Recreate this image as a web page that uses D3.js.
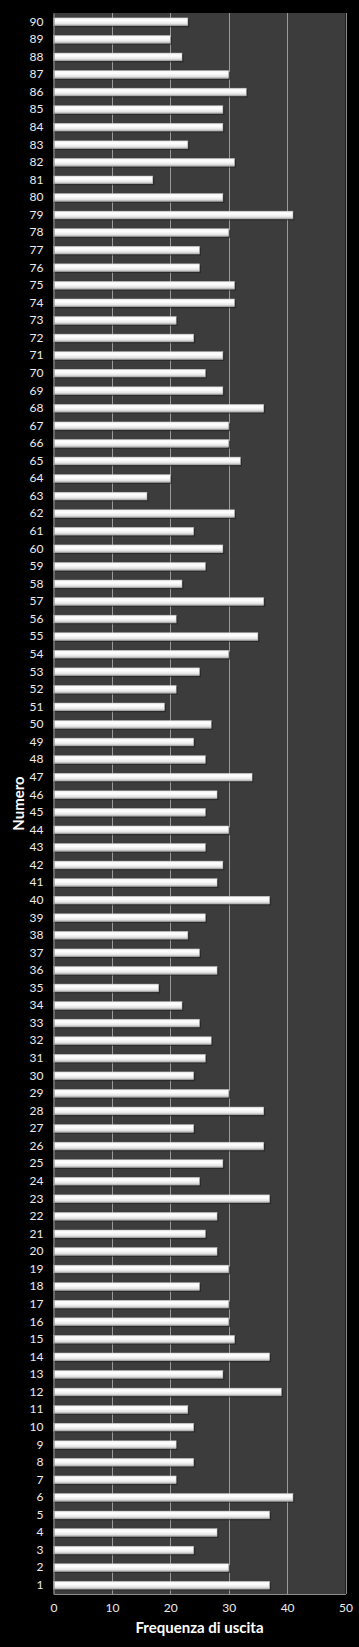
<!DOCTYPE html>
<html>
<head>
<meta charset="utf-8">
<script src="https://cdn.jsdelivr.net/npm/d3@7"></script>
<style>
html,body{margin:0;padding:0;background:#000;}
svg{display:block;}
</style>
</head>
<body>
<div id="chart"></div>
<script>
const categories = d3.range(1, 91).map(String);
const values = [
  37,30,24,28,37,41,21,24,21,24,   // 1-10
  23,39,29,37,31,30,30,25,30,28,   // 11-20
  26,28,37,25,29,36,24,36,30,24,   // 21-30
  26,27,25,22,18,28,25,23,26,37,   // 31-40
  28,29,26,30,26,28,34,26,24,27,   // 41-50
  19,21,25,30,35,21,36,22,26,29,   // 51-60
  24,31,16,20,32,30,30,36,29,26,   // 61-70
  29,24,21,31,31,25,25,30,41,29,   // 71-80
  17,31,23,29,29,33,30,22,20,23    // 81-90
];
const xTicks = [0,10,20,30,40,50];
const xTitle = "Frequenza di uscita";
const yTitle = "Numero";

const W = 359, H = 1647;
const m = {left:53.5, right:13.5, top:13, bottom:53};
const svg = d3.select("#chart").append("svg").attr("width",W).attr("height",H);
svg.append("rect").attr("width",W).attr("height",H).attr("fill","#000");

const x = d3.scaleLinear().domain([0,50]).range([m.left, W-m.right]);
const y = d3.scaleBand().domain(categories.slice().reverse()).range([m.top, H-m.bottom]).paddingInner(0.56).paddingOuter(0.28);

const defs = svg.append("defs");
const grad = defs.append("linearGradient").attr("id","barg").attr("x1",0).attr("y1",0).attr("x2",0).attr("y2",1);
grad.append("stop").attr("offset","0%").attr("stop-color","#f4f4f4");
grad.append("stop").attr("offset","35%").attr("stop-color","#ffffff");
grad.append("stop").attr("offset","75%").attr("stop-color","#e6e6e6");
grad.append("stop").attr("offset","100%").attr("stop-color","#a8a8a8");

// plot area
svg.append("rect").attr("x",x(0)).attr("y",m.top).attr("width",x(50)-x(0)).attr("height",H-m.bottom-m.top).attr("fill","#3c3c3c");

// gridlines
svg.append("g").selectAll("line").data(xTicks.slice(1)).join("line")
  .attr("x1",d=>Math.round(x(d))+0.5).attr("x2",d=>Math.round(x(d))+0.5)
  .attr("y1",m.top).attr("y2",H-m.bottom)
  .attr("stroke",d=>d===50?"#8a8a8a":"#9a9a9a").attr("stroke-width",1);

const data = categories.map((c,i)=>({c, v:values[i]}));

// shadows
svg.append("g").selectAll("rect").data(data).join("rect")
  .attr("x",x(0)+1).attr("y",d=>y(d.c)+1.5)
  .attr("width",d=>x(d.v)-x(0)+0.5).attr("height",y.bandwidth())
  .attr("fill","#1e1e1e").attr("opacity",0.6);

// bars
svg.append("g").selectAll("rect").data(data).join("rect")
  .attr("x",x(0)).attr("y",d=>y(d.c))
  .attr("width",d=>x(d.v)-x(0)).attr("height",y.bandwidth())
  .attr("fill","url(#barg)").attr("stroke","#bdbdbd").attr("stroke-width",0.5);

// axes
const xAxis = svg.append("g").attr("transform",`translate(0,${H-m.bottom})`)
  .call(d3.axisBottom(x).tickValues(xTicks).tickSize(0).tickPadding(9));
const yAxis = svg.append("g").attr("transform",`translate(${x(0)},0)`)
  .call(d3.axisLeft(y).tickSize(0).tickPadding(10));
[xAxis,yAxis].forEach(g=>{
  g.select(".domain").attr("stroke","#8c8c8c").attr("stroke-width",1.2);
  g.selectAll("text").attr("fill","#ececec").style("font-family","Lato, 'Open Sans', sans-serif").style("font-size","12px");
});

svg.append("text").attr("x",(x(0)+x(50))/2).attr("y",1633)
  .attr("text-anchor","middle").attr("fill","#fff")
  .style("font-family","Lato, 'Open Sans', sans-serif").style("font-weight","bold").style("font-size","15px")
  .text(xTitle);
svg.append("text").attr("transform",`translate(24,${(m.top+H-m.bottom)/2}) rotate(-90)`)
  .attr("text-anchor","middle").attr("fill","#fff")
  .style("font-family","Lato, 'Open Sans', sans-serif").style("font-weight","bold").style("font-size","15px")
  .text(yTitle);
</script>
</body>
</html>
